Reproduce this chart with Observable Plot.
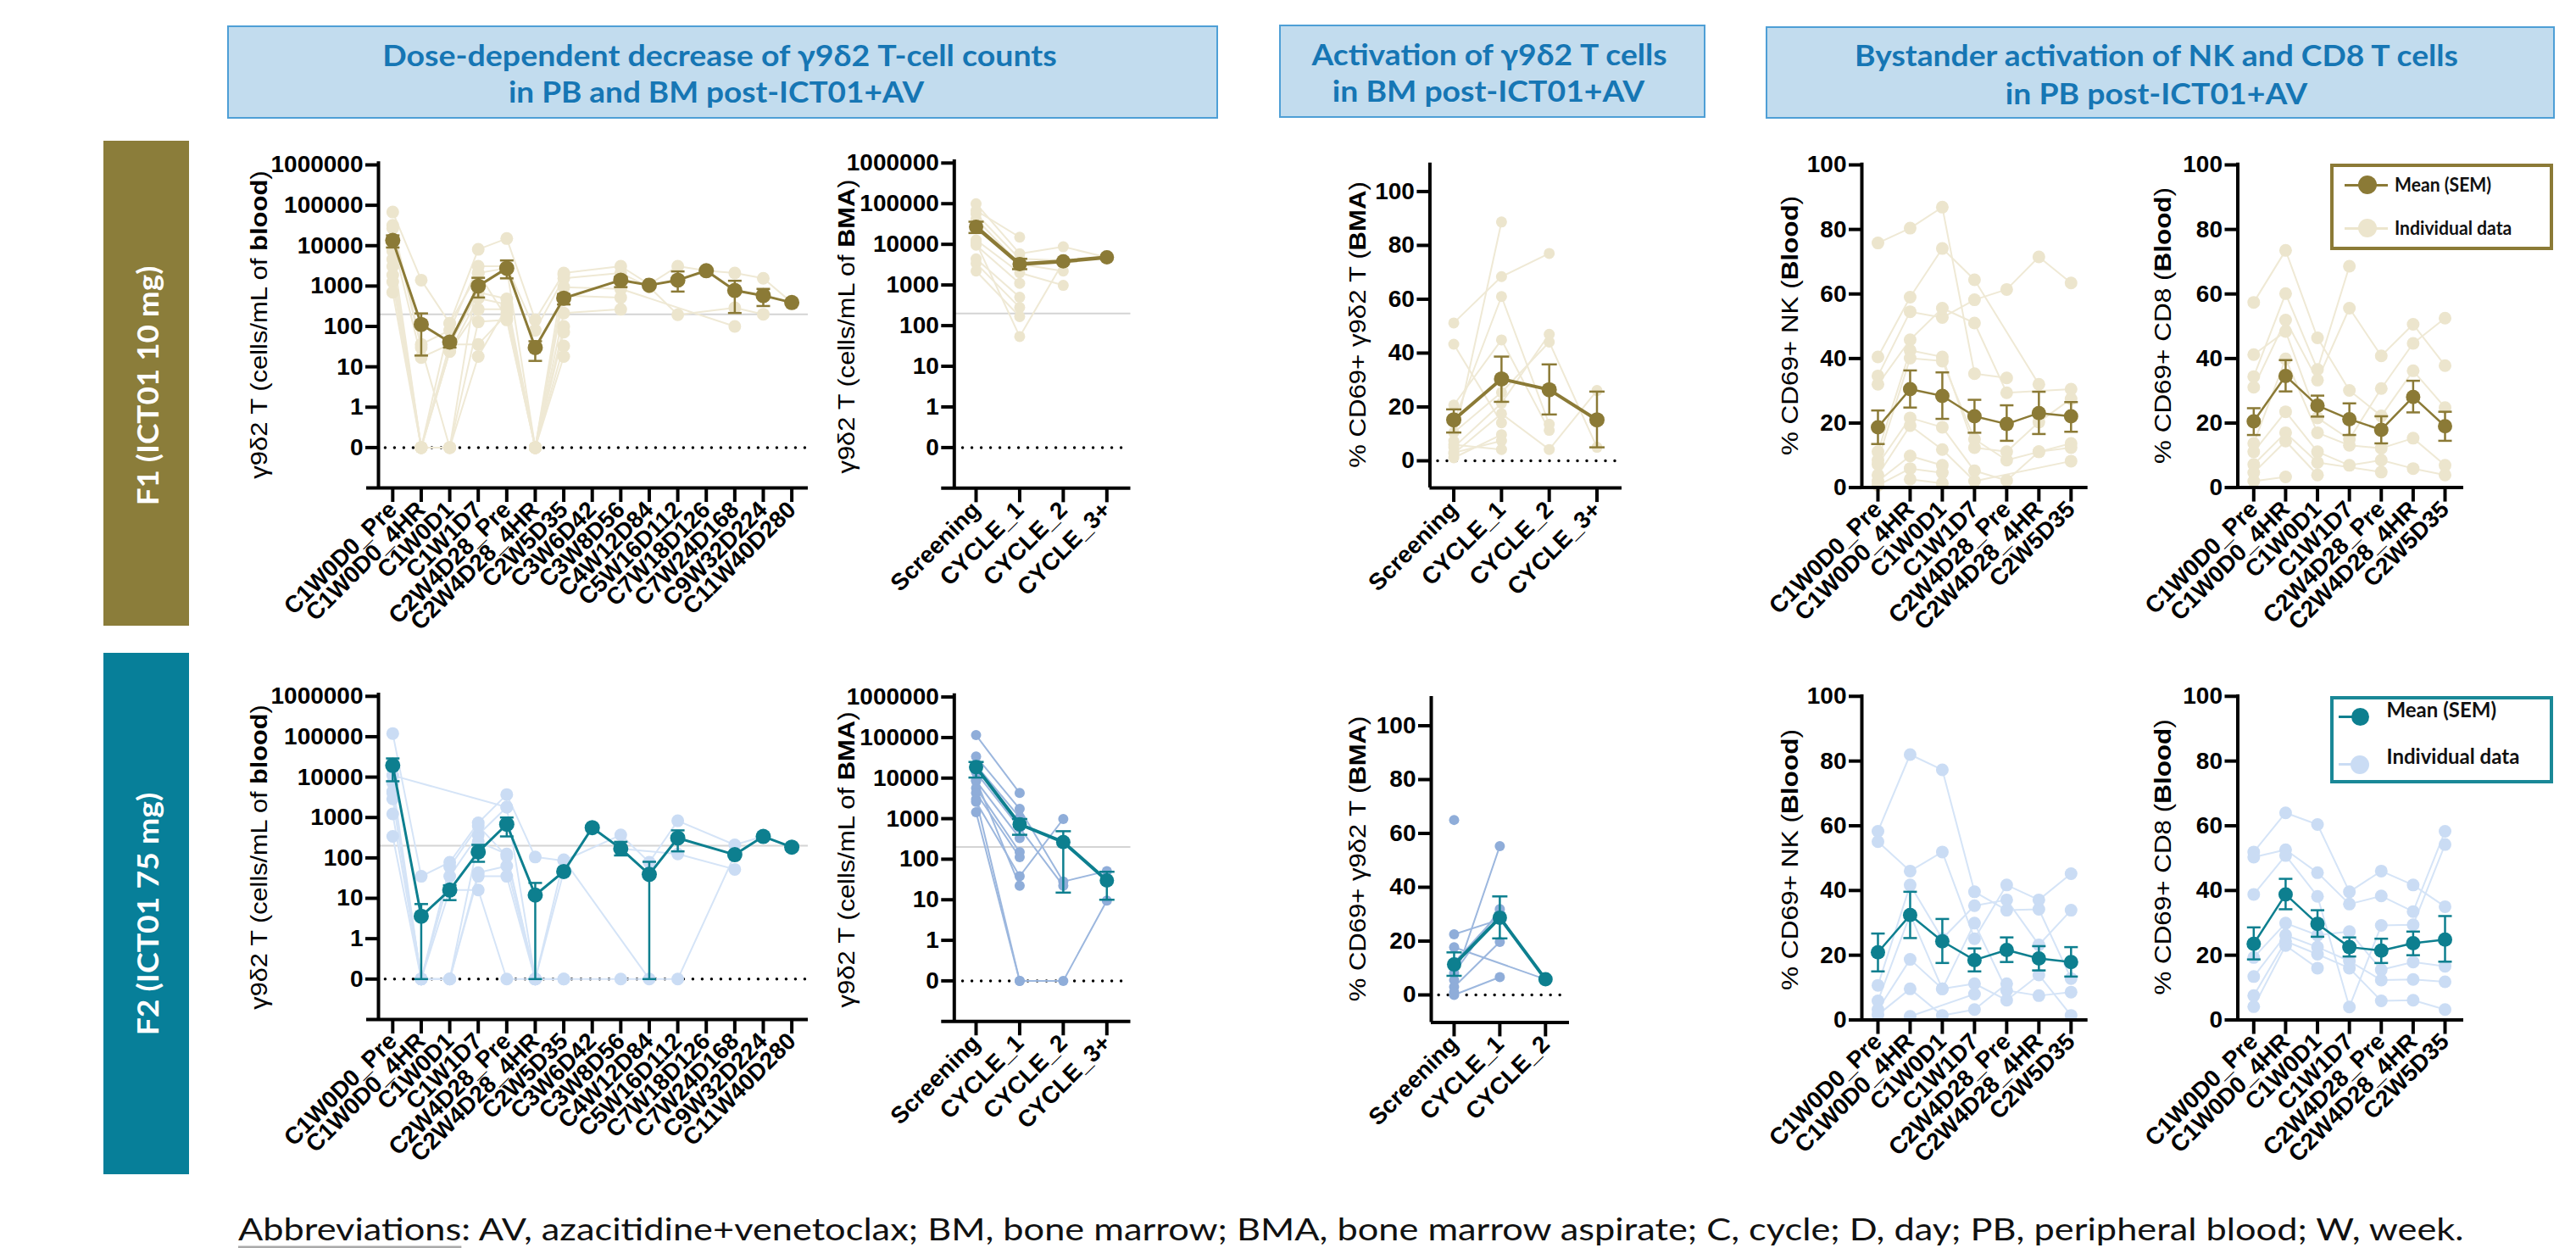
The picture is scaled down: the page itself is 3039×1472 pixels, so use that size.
<!DOCTYPE html>
<html>
<head>
<meta charset="utf-8">
<script src="https://cdn.jsdelivr.net/npm/d3@7"></script>
<script src="https://cdn.jsdelivr.net/npm/@observablehq/plot@0.6"></script>
<style>
  html, body { margin: 0; padding: 0; background: #fff; }
  #root { position: relative; width: 3039px; height: 1472px; overflow: hidden; background: #fff; }
  .box { position: absolute; box-sizing: border-box; }
</style>
</head>
<body>
<div id="root"></div>
<script>
// ---------------- DATA ----------------
const BLOOD_CATS = ["C1W0D0_Pre","C1W0D0_4HR","C1W0D1","C1W1D7","C2W4D28_Pre","C2W4D28_4HR","C2W5D35","C3W6D42","C3W8D56","C4W12D84","C5W16D112","C7W18D126","C7W24D168","C9W32D224","C11W40D280"];
const BMA_CATS = ["Screening","CYCLE_1","CYCLE_2","CYCLE_3+"];
const BMA_CATS_F2 = ["Screening","CYCLE_1","CYCLE_2"];
const PB_CATS = ["C1W0D0_Pre","C1W0D0_4HR","C1W0D1","C1W1D7","C2W4D28_Pre","C2W4D28_4HR","C2W5D35"];
const LOG_TICK_LABELS = ["0","1","10","100","1000","10000","100000","1000000"];
const LOG_TICK_POS = [-1,0,1,2,3,4,5,6];
const PCT_TICKS = [0,20,40,60,80,100];
const LLOQ = 200;

// F1 (ICT01 10 mg) - gamma9delta2 T cells/mL blood
const F1_BLOOD_MEAN = [13500,112,41,1000,2760,30,500,null,1400,1050,1400,2400,780,580,390];
const F1_BLOOD_LO   = [9000,19,30,520,1550,14,350,null,940,null,730,null,215,320,null];
const F1_BLOOD_HI   = [18000,210,48,1600,4300,43,630,null,1700,null,2300,null,1350,850,null];
const F1_BLOOD_PTS = [
  [68000,1400,120,8100,15000,145,2100,null,3100,1100,3100,2400,2100,1550,390],
  [32000,36,80,3100,3100,80,1550,null,2100,950,195,null,290,200],
  [27000,30,0,2100,2760,0,940,null,850,null,null,null,100],
  [13000,17,36,700,480,0,580,null,520],
  [7400,0,24,265,265,0,215,null,265],
  [4600,0,0,130,145,0,100],
  [3100,0,36,36,200,0,72],
  [1860,0,0,18,300,0,33],
  [1260,0,24,500,350,0,18],
  [700,0,120,2100,160,0,1900]
];
// F2 (ICT01 75 mg) - gamma9delta2 T cells/mL blood
const F2_BLOOD_MEAN = [19500,3.6,16,140,680,12,46,560,170,39,310,null,120,340,185];
const F2_BLOOD_LO   = [7900,0,9,80,340,0,null,null,115,0,145,null,null,null,null];
const F2_BLOOD_HI   = [29000,7.2,21,210,1000,24,null,null,250,80,480,null,null,null,null];
const F2_BLOOD_PTS = [
  [120000,35,78,740,3700,105,85,null,370,78,830,null,210,340,185],
  [7200,0,35,370,1800,0,46,560,170,null,125,null,52],
  [4400,0,0,250,125,0,0,null,0,null,0,null,120],
  [2900,0,0,43,63,0,90,null,null,0],
  [1230,0,0,35,35,0,0],
  [340,0,16,16,0,0],
  [11000,null,null,null,1800],
  [4000,0,60,620,110,0]
];
// F1 - gamma9delta2 T cells/mL BMA
const F1_BMA_MEAN = [27000,3250,3800,4800];
const F1_BMA_LO   = [19000,2450,null,null];
const F1_BMA_HI   = [36000,4400,null,null];
const F1_BMA_PTS = [
  [100000,5900,8700,4800],[68000,15000],[56000,4400,4000],[42000,3250,2200],
  [12800,2000,980],[9500,1100],[4400,500],[3400,280],[2200,167],[11000,54,3700]
];
// F2 - gamma9delta2 T cells/mL BMA
const F2_BMA_MEAN = [18600,725,265,30];
const F2_BMA_LO   = [10300,400,15,10];
const F2_BMA_HI   = [25000,980,490,49];
const F2_BMA_PTS = [
  [115000,4300],[34000,1740,28,51],[20600,1070],[13800,590,22],[8500,330],[5700,150],
  [4300,112],[2600,38,980],[1440,0,0,9.5],[9000,22],[3000,0]
];
// F1 - % CD69+ gamma9delta2 T (BMA)
const F1_CD69_MEAN = [15.2,30.4,26.4,15.2];
const F1_CD69_LO   = [10.5,21.9,17.2,5.0];
const F1_CD69_HI   = [19.1,38.7,35.8,25.7];
const F1_CD69_PTS = [
  [51.2,68.4,77],[43.3,14.1],[20.7,44.9,11.3],[14.4,61,13.6],[10.5,25.4,44.1,5],
  [7.4,88.7],[5,21.4,47],[2.7,17.5,4.2,26.1],[1.1,9.7],[3,7.4],[6,4.2]
];
// F2 - % CD69+ gamma9delta2 T (BMA)
const F2_CD69_MEAN = [11.3,28.7,5.8];
const F2_CD69_LO   = [7.1,21,null];
const F2_CD69_HI   = [15.8,36.6,null];
const F2_CD69_PTS = [
  [65],[22.5,28],[17.7,null,5.8],[12,30.6],[8.1,31.9],[5.5,55.3],[3,19.7],[0,6.6],[1]
];
// F1 - % CD69+ NK (blood)
const F1_NK_MEAN = [18.7,30.5,28.4,22.1,19.7,23.1,22.1];
const F1_NK_LO   = [13.5,24.8,21.3,17,14.5,16.6,17.3];
const F1_NK_HI   = [23.9,36.3,35.7,27.2,25.5,29.7,26.5];
const F1_NK_PTS = [
  [75.8,80.4,86.9,35.3,34],[40.5,59,74.1,64.4,null,32],[34.6,54.5,52.7,58.2,61.4,71.5,63.4],
  [32,45.8,55.6,51,29.4,null,30.5],[11.1,42.5,40.5,12.4,11.1,20.3,27.5],[8.5,40.1,39.2,15,8.5,11.1,13.7],
  [7.2,21.6,18.7,5.2,2.2,11.1,12.4],[3.9,19.2,11.8,2,null,null,8.2],[2,9.8,6.9],[0.7,5.9,4.6],[null,2.6,1.3]
];
// F1 - % CD69+ CD8 (blood)
const F1_CD8_MEAN = [20.5,34.6,25.4,21.2,17.9,28.1,19];
const F1_CD8_LO   = [16.3,29.8,22,16.3,13.7,23.3,14.5];
const F1_CD8_HI   = [24.6,39.5,28.5,26.1,22.1,33.1,23.5];
const F1_CD8_PTS = [
  [57.4,73.5,46.4,30.1,22.2,36.2,24.8],[34.4,60.1,36.6,68.6],[31.1,51.9,33.3,55.6,40.8,50.6,37.8],
  [41.2,48.4,21.6,15,30.7,44.7,52.5],[13.7,39.9,17,13.1,12.2,15.3,6.9],[11.1,23.5,11.1,6.9,8.5,5.9,3.9],
  [7.2,17,7.8,null,4.8],[4.6,14.4,3.9],[2,3.3]
];
// F2 - % CD69+ NK (blood)
const F2_NK_MEAN = [20.9,32.4,24.3,18.5,21.6,19,17.9];
const F2_NK_LO   = [15,25.3,17.6,15,17.9,15.3,13.4];
const F2_NK_HI   = [26.7,39.6,31.2,22.1,25.5,22.8,22.5];
const F2_NK_PTS = [
  [58.3,82,77.3,39.6,33.9,34.2,12.8],[55.1,46,51.9,25.1,41.7,37.1,45.2],[10.7,41.7,25.1,35.3,37.1,23.2,33.9],
  [5.9,32.6,9.6,29.9,9.1,7.5,8.6],[3.2,18.7,9.6,11.2,6.1,13.9,1.4],[1.6,9.6,1.4,3.2,11.2],[null,1.1,null,8]
];
// F2 - % CD69+ CD8 (blood)
const F2_CD8_MEAN = [23.5,38.8,29.7,22.5,21.4,23.7,24.8];
const F2_CD8_LO   = [18.7,34.2,25.7,19.6,17.6,20,18];
const F2_CD8_HI   = [28.6,43.6,33.9,25.5,25.1,27.3,32.1];
const F2_CD8_PTS = [
  [51.9,64,60.4,39.6,46,41.7,35],[50.3,52.6,45.5,35.8,38.3,33.5,58.3],[38.8,50.8,38.2,4,29.2,29.4,54.2],
  [19.3,29.9,26.2,27.3,15.5,17.9,16.6],[13.4,26.2,22.5,18.2,12.3,12.5,11.8],[7.5,24.3,20.3,16,5.9,6.1,3.2],
  [4.1,23,16]
];

// ---------------- STYLE ----------------
const W = 3039, H = 1472;
const THEMES = {
  f1:  {mean: "#8b7a36", line: "#efe9d5", dot: "#ece5cd"},
  f2:  {mean: "#0d7f8f", line: "#d5e4f7", dot: "#cadcf4"},
  f2b: {mean: "#0d7f8f", line: "#9cb7de", dot: "#8fadd9"}
};
const tpos = v => (v > 0 ? Math.log10(v) : -1); // segmented log axis: 0 is drawn one decade below 1

const PANELS = [
  {cats: BLOOD_CATS, log: true, pts: F1_BLOOD_PTS, mean: F1_BLOOD_MEAN, lo: F1_BLOOD_LO, hi: F1_BLOOD_HI, theme: "f1",
   ax: 446, last: 933.6, end: 953, over: 14, y0: [-1, 527.4], y1: [6, 194], yb: -2, yt: 6.08, zs: -0.25,
   rInd: 7.5, rMean: 9, meanW: 3, indW: 2, capR: 8, fs: 28},
  {cats: BMA_CATS, log: true, pts: F1_BMA_PTS, mean: F1_BMA_MEAN, lo: F1_BMA_LO, hi: F1_BMA_HI, theme: "f1",
   ax: 1125.3, last: 1305.3, end: 1333.5, over: 15, y0: [-1, 527.4], y1: [6, 191.8], yb: -2, yt: 6.08, zs: -0.3,
   rInd: 6.5, rMean: 8.5, meanW: 4.5, indW: 2, capR: 9, fs: 28},
  {cats: BMA_CATS, log: false, pts: F1_CD69_PTS, mean: F1_CD69_MEAN, lo: F1_CD69_LO, hi: F1_CD69_HI, theme: "f1",
   ax: 1686.4, last: 1883.5, end: 1913, over: 0, y0: [0, 543], y1: [100, 225.4], yb: -10.1, yt: 110.6, zs: -0.33,
   rInd: 6.5, rMean: 9, meanW: 4, indW: 2, capR: 9, fs: 28},
  {cats: PB_CATS, log: false, pts: F1_NK_PTS, mean: F1_NK_MEAN, lo: F1_NK_LO, hi: F1_NK_HI, theme: "f1",
   ax: 2196, last: 2442.8, end: 2462.7, over: 14, y0: [0, 574.6], y1: [100, 194], yb: 0, yt: 100.6, zs: null,
   rInd: 7.5, rMean: 8.5, meanW: 2.5, indW: 2, capR: 8, fs: 28},
  {cats: PB_CATS, log: false, pts: F1_CD8_PTS, mean: F1_CD8_MEAN, lo: F1_CD8_LO, hi: F1_CD8_HI, theme: "f1",
   ax: 2639.5, last: 2884, end: 2906, over: 14, y0: [0, 574.6], y1: [100, 194], yb: 0, yt: 100.6, zs: null,
   rInd: 7.5, rMean: 8.5, meanW: 2.5, indW: 2, capR: 8, fs: 28},
  {cats: BLOOD_CATS, log: true, pts: F2_BLOOD_PTS, mean: F2_BLOOD_MEAN, lo: F2_BLOOD_LO, hi: F2_BLOOD_HI, theme: "f2",
   ax: 446, last: 933.6, end: 953, over: 14, y0: [-1, 1154.3], y1: [6, 820.8], yb: -2, yt: 6.08, zs: -0.25,
   rInd: 7.5, rMean: 9, meanW: 3, indW: 2, capR: 8, fs: 28},
  {cats: BMA_CATS, log: true, pts: F2_BMA_PTS, mean: F2_BMA_MEAN, lo: F2_BMA_LO, hi: F2_BMA_HI, theme: "f2b",
   ax: 1125.3, last: 1305.3, end: 1333.5, over: 15, y0: [-1, 1156.4], y1: [6, 821.6], yb: -2, yt: 6.08, zs: -0.3,
   rInd: 6, rMean: 8.5, meanW: 4, indW: 2, capR: 9, fs: 28},
  {cats: BMA_CATS_F2, log: false, pts: F2_CD69_PTS, mean: F2_CD69_MEAN, lo: F2_CD69_LO, hi: F2_CD69_HI, theme: "f2b",
   ax: 1688, last: 1822.8, end: 1851, over: 0, y0: [0, 1173], y1: [100, 855.5], yb: -10.2, yt: 110.9, zs: -0.33,
   rInd: 6, rMean: 8.5, meanW: 4, indW: 2, capR: 9, fs: 28},
  {cats: PB_CATS, log: false, pts: F2_NK_PTS, mean: F2_NK_MEAN, lo: F2_NK_LO, hi: F2_NK_HI, theme: "f2",
   ax: 2196, last: 2442.8, end: 2462.7, over: 14, y0: [0, 1202.5], y1: [100, 820.8], yb: 0, yt: 100.5, zs: null,
   rInd: 7.5, rMean: 8.5, meanW: 2.5, indW: 2, capR: 8, fs: 28},
  {cats: PB_CATS, log: false, pts: F2_CD8_PTS, mean: F2_CD8_MEAN, lo: F2_CD8_LO, hi: F2_CD8_HI, theme: "f2",
   ax: 2639.5, last: 2884, end: 2906, over: 14, y0: [0, 1202.5], y1: [100, 820.8], yb: 0, yt: 100.5, zs: null,
   rInd: 7.5, rMean: 8.5, meanW: 2.5, indW: 2, capR: 8, fs: 28}
];

const root = document.getElementById("root");
const capSymbol = {draw(ctx, size) { const w = Math.sqrt(size / Math.PI); ctx.moveTo(-w, 0); ctx.lineTo(w, 0); }};

function drawPanel(p) {
  const n = p.cats.length;
  const step = (p.last - p.ax) / (n - 0.5);
  const xEndV = (n - 1) + (p.end - p.last) / step;
  const xStartV = -0.5 - p.over / step;
  const pxPerY = (p.y1[1] - p.y0[1]) / (p.y1[0] - p.y0[0]);
  const xAxisPx = p.y0[1] + (p.yb - p.y0[0]) * pxPerY;
  const Y = p.log ? tpos : (v => v);
  const th = THEMES[p.theme];
  const ind = [];
  p.pts.forEach((row, pid) => row.forEach((v, i) => { if (v != null) ind.push({pid, i, v}); }));
  const mean = p.mean.map((m, i) => ({i, m, lo: p.lo[i], hi: p.hi[i]})).filter(d => d.m != null);
  const err = mean.filter(d => d.lo != null && d.hi != null);
  const marks = [];
  if (p.log) marks.push(Plot.ruleY([Math.log10(LLOQ)], {x1: -0.5, x2: xEndV, stroke: "#d4d4d4", strokeWidth: 2}));
  if (p.zs != null) marks.push(Plot.ruleY([p.log ? -1 : 0], {x1: p.zs, x2: xEndV - 0.1, stroke: "#000", strokeWidth: 3.5, strokeDasharray: "0 11", strokeLinecap: "round"}));
  marks.push(
    Plot.line(ind, {x: "i", y: d => Y(d.v), z: "pid", stroke: th.line, strokeWidth: p.indW}),
    Plot.dot(ind, {x: "i", y: d => Y(d.v), r: p.rInd, fill: th.dot}),
    Plot.ruleX(err, {x: "i", y1: d => Y(d.lo), y2: d => Y(d.hi), stroke: th.mean, strokeWidth: 2.5}),
    Plot.dot(err, {x: "i", y: d => Y(d.lo), symbol: capSymbol, r: p.capR, stroke: th.mean, strokeWidth: 2.5, fill: "none"}),
    Plot.dot(err, {x: "i", y: d => Y(d.hi), symbol: capSymbol, r: p.capR, stroke: th.mean, strokeWidth: 2.5, fill: "none"}),
    Plot.line(mean, {x: "i", y: d => Y(d.m), stroke: th.mean, strokeWidth: p.meanW}),
    Plot.dot(mean, {x: "i", y: d => Y(d.m), r: p.rMean, fill: th.mean}),
    Plot.ruleX([-0.5], {y1: p.yb, y2: p.yt, stroke: "#000", strokeWidth: 4}),
    Plot.ruleY([p.yb], {x1: xStartV, x2: xEndV, stroke: "#000", strokeWidth: 4}),
    Plot.axisY({
      ticks: p.log ? LOG_TICK_POS : PCT_TICKS,
      tickFormat: p.log ? (t => LOG_TICK_LABELS[LOG_TICK_POS.indexOf(t)]) : (t => String(t)),
      tickSize: 15, tickPadding: 3, strokeWidth: 4, fontSize: p.fs, fontWeight: "bold", label: null
    }),
    Plot.axisX({
      ticks: d3.range(n), tickFormat: i => p.cats[i], tickRotate: -45, textAnchor: "end",
      tickSize: 17, tickPadding: 4, strokeWidth: 4, fontSize: 28, fontWeight: "bold", label: null
    })
  );
  const svg = Plot.plot({
    width: W, height: H,
    marginLeft: p.ax, marginRight: W - p.end, marginTop: 10, marginBottom: H - xAxisPx,
    x: {type: "linear", domain: [-0.5, n - 1], range: [p.ax, p.last]},
    y: {type: "linear", domain: [p.y0[0], p.y1[0]], range: [p.y0[1], p.y1[1]]},
    style: {background: "transparent", overflow: "visible", position: "absolute", left: "0px", top: "0px",
            fontFamily: "'Liberation Sans', Arial, sans-serif", color: "#000", maxWidth: "none"},
    marks
  });
  root.appendChild(svg);
}
PANELS.forEach(drawPanel);

// ---------------- TEXT & DECORATION ----------------
function box(x, y, w, h, css) {
  const el = document.createElement("div");
  el.className = "box";
  Object.assign(el.style, {left: x + "px", top: y + "px", width: w + "px", height: h + "px"}, css);
  root.appendChild(el);
  return el;
}
function txt(html, o) {
  const el = document.createElement("div");
  el.innerHTML = html;
  Object.assign(el.style, {position: "absolute", left: o.x + "px", top: o.y + "px", whiteSpace: "nowrap",
    lineHeight: "1", fontFamily: o.family || "Lato", fontSize: o.size + "px", fontWeight: o.weight || 400,
    color: o.color || "#000"});
  root.appendChild(el);
  const nat = el.offsetWidth;
  const k = o.w ? o.w / nat : 1;
  if (o.anchor === "left") {
    el.style.transformOrigin = "0 50%";
    el.style.transform = `translate(0,-50%) scaleX(${k})`;
  } else {
    el.style.transform = `translate(-50%,-50%) rotate(${o.rot || 0}deg) scaleX(${k})`;
  }
  return el;
}

// headers
const HDR = {background: "#c2dcee", border: "2px solid #4e9fd6"};
const HC = "#1676b4";
box(268, 30, 1169, 110, HDR);
box(1508.6, 29, 503.4, 110, HDR);
box(2083, 31, 930.5, 109, HDR);
txt("Dose-dependent decrease of γ9δ2 T-cell counts", {x: 849, y: 65, w: 796, size: 34, weight: 700, color: HC});
txt("in PB and BM post-ICT01+AV", {x: 845, y: 108, w: 490, size: 34, weight: 700, color: HC});
txt("Activation of γ9δ2 T cells", {x: 1756.5, y: 64, w: 419, size: 34, weight: 700, color: HC});
txt("in BM post-ICT01+AV", {x: 1756, y: 107, w: 368, size: 34, weight: 700, color: HC});
txt("Bystander activation of NK and CD8 T cells", {x: 2544, y: 65, w: 712, size: 34, weight: 700, color: HC});
txt("in PB post-ICT01+AV", {x: 2544, y: 109.5, w: 356, size: 34, weight: 700, color: HC});

// row labels
box(122, 166, 101, 572, {background: "#8b7d3a"});
box(122, 770, 101, 615, {background: "#077f99"});
txt("F1 (ICT01 10 mg)", {x: 174, y: 455, w: 283, size: 34, weight: 700, color: "#fff", rot: -90});
txt("F2 (ICT01 75 mg)", {x: 174, y: 1078, w: 287, size: 34, weight: 700, color: "#fff", rot: -90});

// y-axis titles
const YT = {family: "'Liberation Sans', Arial, sans-serif", size: 28, rot: -90};
txt("γ9δ2 T (cells/mL of <b>blood</b>)", {...YT, x: 306, y: 383, w: 363});
txt("γ9δ2 T (cells/mL of <b>BMA</b>)", {...YT, x: 999, y: 385, w: 347});
txt("% CD69+ γ9δ2 T (<b>BMA</b>)", {...YT, x: 1602, y: 383, w: 338});
txt("% CD69+ NK (<b>Blood</b>)", {...YT, x: 2112, y: 384, w: 306});
txt("% CD69+ CD8 (<b>Blood</b>)", {...YT, x: 2552, y: 384, w: 326});
txt("γ9δ2 T (cells/mL of <b>blood</b>)", {...YT, x: 306, y: 1011, w: 359});
txt("γ9δ2 T (cells/mL of <b>BMA</b>)", {...YT, x: 999, y: 1014, w: 349});
txt("% CD69+ γ9δ2 T (<b>BMA</b>)", {...YT, x: 1602, y: 1013, w: 337});
txt("% CD69+ NK (<b>Blood</b>)", {...YT, x: 2112, y: 1014, w: 308});
txt("% CD69+ CD8 (<b>Blood</b>)", {...YT, x: 2552, y: 1011, w: 325});

// legends
function legend(o) {
  box(o.x, o.y, o.w, o.h, {border: `4px solid ${o.color}`, background: "#fff"});
  o.items.forEach(it => {
    box(o.lx1, it.ly - 1.5, o.lx2 - o.lx1, 3, {background: it.c});
    box(o.dx - it.r, it.ly - it.r, 2 * it.r, 2 * it.r, {background: it.c, borderRadius: "50%"});
    txt(it.label, {x: o.tx, y: it.ty, w: it.tw, size: o.size, weight: 700, anchor: "left", color: "#111"});
  });
}
legend({x: 2748.7, y: 192.6, w: 263.3, h: 102.4, color: "#8b7a36", lx1: 2765.6, lx2: 2817, dx: 2793, tx: 2825, size: 23,
  items: [{label: "Mean (SEM)", ly: 218, ty: 217, tw: 114, c: "#8b7a36", r: 11},
          {label: "Individual data", ly: 269, ty: 268, tw: 138, c: "#ece5cd", r: 11}]});
legend({x: 2748.7, y: 820.8, w: 263.3, h: 102.9, color: "#1a8897", lx1: 2759, lx2: 2794, dx: 2784, tx: 2815.5, size: 24,
  items: [{label: "Mean (SEM)", ly: 845, ty: 837, tw: 130, c: "#0d7f8f", r: 10.5},
          {label: "Individual data", ly: 901.6, ty: 892, tw: 157, c: "#cadcf4", r: 11}]});

// caption
txt('<span style="text-decoration: underline; text-decoration-color: #aaa; text-underline-offset: 7px;">Abbreviations</span>: AV, azacitidine+venetoclax; BM, bone marrow; BMA, bone marrow aspirate; C, cycle; D, day; PB, peripheral blood; W, week.',
  {x: 281, y: 1448, w: 2626, size: 37, anchor: "left", color: "#111"});
</script>
</body>
</html>
